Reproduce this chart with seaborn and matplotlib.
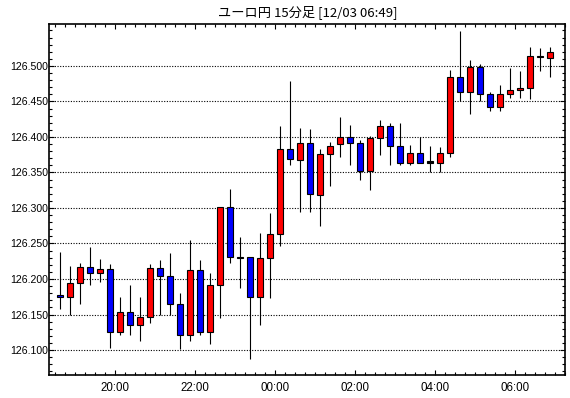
import matplotlib
matplotlib.use("Agg")
import matplotlib.pyplot as plt
from matplotlib.ticker import MultipleLocator, FixedLocator, FixedFormatter
import numpy as np
import pandas as pd
import seaborn as sns

title = "ユーロ円 15分足 [12/03 06:49]"

# 15-minute candles, 18:30 .. 06:45
opens = [126.177, 126.174, 126.194, 126.217, 126.209, 126.214, 126.126, 126.154, 126.135, 126.147,
         126.216, 126.204, 126.165, 126.121, 126.213, 126.125, 126.191, 126.301, 126.230, 126.231,
         126.174, 126.229, 126.264, 126.383, 126.367, 126.391, 126.319, 126.376, 126.390, 126.400,
         126.392, 126.352, 126.398, 126.416, 126.388, 126.363, 126.378, 126.364, 126.363, 126.377,
         126.485, 126.464, 126.499, 126.461, 126.442, 126.461, 126.466, 126.469, 126.513, 126.511]
highs = [126.238, 126.219, 126.223, 126.245, 126.228, 126.221, 126.175, 126.191, 126.174, 126.221,
         126.227, 126.236, 126.180, 126.255, 126.227, 126.208, 126.301, 126.327, 126.259, 126.231,
         126.265, 126.293, 126.415, 126.479, 126.413, 126.411, 126.383, 126.393, 126.428, 126.417,
         126.396, 126.401, 126.424, 126.420, 126.420, 126.389, 126.400, 126.387, 126.386, 126.495,
         126.549, 126.508, 126.503, 126.464, 126.473, 126.497, 126.493, 126.527, 126.525, 126.527]
lows = [126.158, 126.149, 126.165, 126.191, 126.196, 126.103, 126.121, 126.121, 126.112, 126.138,
        126.150, 126.149, 126.102, 126.113, 126.121, 126.109, 126.145, 126.222, 126.188, 126.087,
        126.135, 126.173, 126.247, 126.361, 126.295, 126.295, 126.275, 126.331, 126.372, 126.360,
        126.339, 126.326, 126.375, 126.361, 126.361, 126.361, 126.363, 126.350, 126.350, 126.372,
        126.450, 126.433, 126.450, 126.436, 126.437, 126.455, 126.455, 126.454, 126.493, 126.485]
closes = [126.174, 126.194, 126.217, 126.209, 126.214, 126.126, 126.154, 126.135, 126.147, 126.216,
          126.204, 126.165, 126.121, 126.213, 126.125, 126.191, 126.301, 126.231, 126.230, 126.174,
          126.229, 126.264, 126.383, 126.369, 126.391, 126.320, 126.376, 126.388, 126.400, 126.392,
          126.352, 126.398, 126.416, 126.388, 126.363, 126.378, 126.364, 126.364, 126.377, 126.485,
          126.464, 126.499, 126.461, 126.442, 126.461, 126.466, 126.469, 126.514, 126.513, 126.519]

x_tick_labels = ["20:00", "22:00", "00:00", "02:00", "04:00", "06:00"]
x_tick_slots = [6, 14, 22, 30, 38, 46]          # slot index of each label (slot 0 = 18:30)
y_tick_values = [126.10, 126.15, 126.20, 126.25, 126.30, 126.35, 126.40, 126.45, 126.50]

df = pd.DataFrame({"open": opens, "high": highs, "low": lows, "close": closes})
df["slot"] = np.arange(len(df)) + 0.5

sns.set_theme(style="white")
plt.rcParams["font.family"] = ["Liberation Sans", "Noto Sans CJK JP", "DejaVu Sans"]

fig = plt.figure(figsize=(5.70, 3.98), dpi=100)
ax = fig.add_axes([49.3 / 570, 1 - 375 / 398, (565.3 - 49.3) / 570, (375 - 24.3) / 398])

# gridlines
for yv in y_tick_values:
    ax.axhline(yv, color="black", lw=0.8, linestyle=(0, (1, 1.4)), zorder=1)

# wicks
ax.vlines(df["slot"], df["low"], df["high"], color="black", lw=0.8, zorder=2)

# bodies
bottoms = np.minimum(df["open"], df["close"])
heights = np.maximum(np.abs(df["close"] - df["open"]), 0.0015)
colors = np.where(df["close"] > df["open"], "#ff0000",
                  np.where(df["close"] < df["open"], "#0000ff", "black"))
ax.bar(df["slot"], heights, bottom=bottoms, width=0.65, color=colors,
       edgecolor="black", linewidth=0.8, zorder=3)

ax.set_xlim(-0.57, 51.03)
ax.set_ylim(126.0648, 126.5587)

ax.xaxis.set_major_locator(FixedLocator(x_tick_slots))
ax.xaxis.set_major_formatter(FixedFormatter(x_tick_labels))
ax.xaxis.set_minor_locator(MultipleLocator(1))
ax.yaxis.set_major_locator(FixedLocator(y_tick_values))
ax.yaxis.set_major_formatter(FixedFormatter([f"{v:.3f}" for v in y_tick_values]))
ax.yaxis.set_minor_locator(MultipleLocator(0.01))

ax.tick_params(axis="both", which="both", direction="in", top=True, right=True,
               bottom=True, left=True, color="black", width=0.8)
ax.tick_params(axis="both", which="major", length=3.8, labelcolor="black")
ax.tick_params(axis="both", which="minor", length=2.2)
ax.tick_params(axis="x", which="major", pad=5, labelsize=8.3)
ax.tick_params(axis="y", which="major", pad=1, labelsize=7.6)

for s in ax.spines.values():
    s.set_visible(True)
    s.set_color("black")
    s.set_linewidth(1.2)

ax.set_xlabel("")
ax.set_ylabel("")
fig.text(307.3 / 570, 1 - 12 / 398, title, ha="center", va="center", fontsize=9.5,
         family=["Noto Sans CJK JP", "DejaVu Sans"], color="black")

fig.savefig("out.png", dpi=100, facecolor="white")
